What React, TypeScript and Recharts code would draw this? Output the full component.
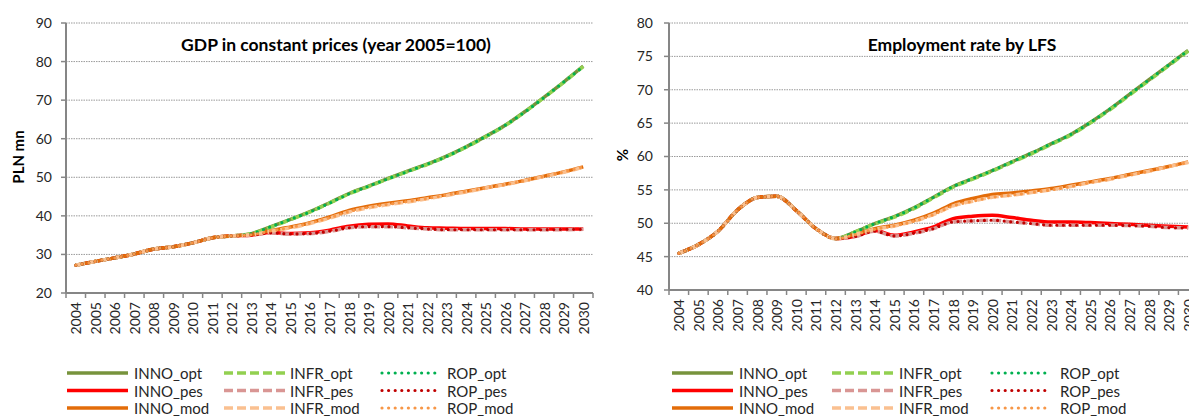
import React from 'react';
import { LineChart, Line, XAxis, YAxis, CartesianGrid } from 'recharts';

const YEARS = ['2004','2005','2006','2007','2008','2009','2010','2011','2012','2013','2014','2015','2016','2017','2018','2019','2020','2021','2022','2023','2024','2025','2026','2027','2028','2029','2030'];

// GDP in constant prices (year 2005=100), PLN mn
const gdpInnoOpt = [27.2,28.2,29.1,30.1,31.4,32.0,33.0,34.3,34.8,35.4,37.2,39.1,41.1,43.4,45.8,47.7,49.7,51.6,53.4,55.5,57.9,60.6,63.5,67.0,70.8,74.7,78.8];
const gdpInnoPes = [27.2,28.2,29.1,30.1,31.4,32.0,33.0,34.3,34.8,35.0,35.7,35.4,35.6,36.3,37.3,37.8,37.9,37.4,36.9,36.8,36.7,36.7,36.7,36.6,36.6,36.6,36.6];
const gdpInnoMod = [27.2,28.2,29.1,30.1,31.4,32.0,33.0,34.3,34.8,35.2,36.2,37.1,38.2,39.7,41.4,42.5,43.3,43.9,44.7,45.5,46.4,47.3,48.2,49.2,50.3,51.4,52.7];
const gdpInfrOpt = [27.2,28.2,29.1,30.1,31.4,32.0,33.0,34.3,34.8,35.4,37.1,39.0,41.0,43.3,45.7,47.6,49.6,51.5,53.3,55.4,57.8,60.5,63.4,66.9,70.7,74.6,78.7];
const gdpInfrPes = [27.2,28.2,29.1,30.1,31.4,32.0,33.0,34.3,34.8,35.0,35.6,35.3,35.4,36.0,36.9,37.2,37.2,36.9,36.6,36.4,36.4,36.4,36.4,36.4,36.4,36.4,36.5];
const gdpInfrMod = [27.2,28.2,29.1,30.1,31.4,32.0,33.0,34.3,34.8,35.1,36.0,36.9,38.0,39.4,41.0,42.1,42.9,43.6,44.4,45.3,46.2,47.2,48.1,49.1,50.2,51.3,52.6];
const gdpRopOpt = [27.2,28.2,29.1,30.1,31.4,32.0,33.0,34.3,34.8,35.4,37.2,39.1,41.0,43.3,45.7,47.7,49.6,51.5,53.4,55.4,57.9,60.6,63.5,66.9,70.7,74.7,78.7];
const gdpRopPes = [27.2,28.2,29.1,30.1,31.4,32.0,33.0,34.3,34.8,35.0,35.6,35.3,35.4,36.0,36.9,37.2,37.2,36.9,36.6,36.4,36.4,36.4,36.4,36.4,36.4,36.5,36.5];
const gdpRopMod = [27.2,28.2,29.1,30.1,31.4,32.0,33.0,34.3,34.8,35.1,36.1,37.0,38.1,39.5,41.1,42.2,43.0,43.7,44.5,45.4,46.3,47.2,48.1,49.1,50.2,51.4,52.7];

// Employment rate by LFS, %
const empInnoOpt = [45.5,46.8,48.8,52.0,53.85,54.05,51.9,49.2,47.7,48.7,49.95,51.0,52.3,53.9,55.5,56.7,57.9,59.2,60.5,61.9,63.3,65.1,67.1,69.3,71.5,73.7,75.9];
const empInnoPes = [45.5,46.8,48.8,52.0,53.85,54.05,51.9,49.2,47.7,48.05,48.9,48.2,48.7,49.45,50.7,51.05,51.2,50.85,50.45,50.2,50.2,50.1,49.95,49.85,49.7,49.55,49.45];
const empInnoMod = [45.5,46.8,48.8,52.0,53.85,54.05,51.9,49.2,47.7,48.35,49.2,49.7,50.45,51.5,52.9,53.7,54.3,54.55,54.85,55.2,55.7,56.2,56.7,57.3,57.9,58.5,59.2];
const empInfrOpt = [45.5,46.8,48.8,52.0,53.85,54.05,51.9,49.2,47.7,48.7,49.9,50.9,52.2,53.8,55.4,56.6,57.8,59.1,60.4,61.8,63.2,65.0,67.0,69.2,71.4,73.6,75.8];
const empInfrPes = [45.5,46.8,48.8,52.0,53.85,54.05,51.9,49.2,47.7,48.0,48.8,48.1,48.5,49.2,50.2,50.35,50.45,50.2,49.95,49.7,49.7,49.7,49.7,49.65,49.55,49.35,49.3];
const empInfrMod = [45.5,46.8,48.8,52.0,53.85,54.05,51.9,49.2,47.7,48.3,49.1,49.6,50.3,51.3,52.6,53.3,53.9,54.2,54.6,55.0,55.5,56.1,56.6,57.2,57.8,58.5,59.1];
const empRopOpt = [45.5,46.8,48.8,52.0,53.85,54.05,51.9,49.2,47.7,48.7,49.95,51.0,52.3,53.9,55.5,56.7,57.9,59.2,60.5,61.9,63.3,65.1,67.1,69.3,71.5,73.7,75.9];
const empRopPes = [45.5,46.8,48.8,52.0,53.85,54.05,51.9,49.2,47.7,48.0,48.8,48.1,48.5,49.2,50.2,50.35,50.45,50.2,49.95,49.7,49.7,49.7,49.7,49.65,49.55,49.35,49.3];
const empRopMod = [45.5,46.8,48.8,52.0,53.85,54.05,51.9,49.2,47.7,48.3,49.1,49.6,50.3,51.3,52.6,53.3,53.9,54.2,54.6,55.0,55.5,56.1,56.6,57.2,57.8,58.5,59.1];

const GDP_TICKS = [20,30,40,50,60,70,80,90];
const EMP_TICKS = [40,45,50,55,60,65,70,75,80];

const SERIES_KEYS = ['INNO_opt','INNO_pes','INNO_mod','INFR_opt','INFR_pes','INFR_mod','ROP_opt','ROP_pes','ROP_mod'];

type Kind = 'solid' | 'dash' | 'dot';
const STYLES: Record<string, { color: string; kind: Kind }> = {
  INNO_opt: { color: '#77933C', kind: 'solid' },
  INNO_pes: { color: '#FF0000', kind: 'solid' },
  INNO_mod: { color: '#E36C09', kind: 'solid' },
  INFR_opt: { color: '#92D050', kind: 'dash' },
  INFR_pes: { color: '#D99694', kind: 'dash' },
  INFR_mod: { color: '#FAC090', kind: 'dash' },
  ROP_opt: { color: '#00B050', kind: 'dot' },
  ROP_pes: { color: '#C00000', kind: 'dot' },
  ROP_mod: { color: '#F79646', kind: 'dot' },
};

const gdpData = YEARS.map((year, i) => ({
  year,
  INNO_opt: gdpInnoOpt[i], INNO_pes: gdpInnoPes[i], INNO_mod: gdpInnoMod[i],
  INFR_opt: gdpInfrOpt[i], INFR_pes: gdpInfrPes[i], INFR_mod: gdpInfrMod[i],
  ROP_opt: gdpRopOpt[i], ROP_pes: gdpRopPes[i], ROP_mod: gdpRopMod[i],
}));
const empData = YEARS.map((year, i) => ({
  year,
  INNO_opt: empInnoOpt[i], INNO_pes: empInnoPes[i], INNO_mod: empInnoMod[i],
  INFR_opt: empInfrOpt[i], INFR_pes: empInfrPes[i], INFR_mod: empInfrMod[i],
  ROP_opt: empRopOpt[i], ROP_pes: empRopPes[i], ROP_mod: empRopMod[i],
}));

const FONT = 'Lato, "Open Sans", sans-serif';
const AXIS = '#868686';
const TEXT = '#262626';

function strokeProps(kind: Kind) {
  if (kind === 'dash') return { strokeWidth: 3.5, strokeDasharray: '9 4' };
  if (kind === 'dot') return { strokeWidth: 3.2, strokeDasharray: '0 6.6', strokeLinecap: 'round' as const };
  return { strokeWidth: 3.5 };
}

const makeXTick = (band: number) => (props: any) => {
  const { x, y, payload } = props;
  const isLast = payload.value === YEARS[YEARS.length - 1];
  const ty = y + 9;
  return (
    <g>
      <line x1={x - band / 2} y1={y} x2={x - band / 2} y2={y + 5} stroke={AXIS} strokeWidth={1.5} />
      {isLast && <line x1={x + band / 2} y1={y} x2={x + band / 2} y2={y + 5} stroke={AXIS} strokeWidth={1.5} />}
      <text
        x={x}
        y={ty}
        transform={`rotate(-90 ${x} ${ty})`}
        textAnchor="end"
        dominantBaseline="central"
        fontSize={14}
        fontFamily={FONT}
        fill={TEXT}
      >
        {payload.value}
      </text>
    </g>
  );
};

type Col = { x1: number; x2: number; tx: number };
const GROUPS = [['INNO_opt','INNO_pes','INNO_mod'],['INFR_opt','INFR_pes','INFR_mod'],['ROP_opt','ROP_pes','ROP_mod']];
const ROWS_Y = [373, 390.5, 408];

function LegendBlock({ cols }: { cols: Col[] }) {
  return (
    <svg width={600} height={416} style={{ position: 'absolute', left: 0, top: 0, pointerEvents: 'none' }}>
      {GROUPS.map((g, gi) =>
        g.map((key, ri) => {
          const s = STYLES[key];
          const c = cols[gi];
          const y = ROWS_Y[ri];
          return (
            <g key={key}>
              <line x1={c.x1} y1={y} x2={c.x2} y2={y} stroke={s.color} {...strokeProps(s.kind)} />
              <text x={c.tx} y={y} dominantBaseline="central" fontSize={15} fontFamily={FONT} fill={TEXT}>{key}</text>
            </g>
          );
        })
      )}
    </svg>
  );
}

function Panel(props: {
  left: number; data: any[]; domain: [number, number]; ticks: number[];
  yWidth: number; marginRight: number; marginBottom: number; band: number; tickMargin: number;
  title: string; titleX: number; yLabel: string; yLabelX: number; yLabelY: number; cols: Col[];
}) {
  const p = props;
  return (
    <div style={{ position: 'absolute', left: p.left, top: 0, width: 600, height: 416 }}>
      <LineChart width={600} height={416} data={p.data} margin={{ top: 23, right: p.marginRight, left: 0, bottom: p.marginBottom }}>
        <CartesianGrid vertical={false} stroke="#9A9A9A" strokeDasharray="1.5 1" strokeWidth={1} />
        <XAxis
          dataKey="year"
          height={40}
          interval={0}
          padding={{ left: p.band / 2, right: p.band / 2 }}
          tickSize={0}
          tickMargin={0}
          tickLine={false}
          axisLine={{ stroke: AXIS, strokeWidth: 2 }}
          tick={makeXTick(p.band)}
        />
        <YAxis
          width={p.yWidth}
          domain={p.domain}
          ticks={p.ticks}
          interval={0}
          tickSize={5}
          tickMargin={p.tickMargin}
          axisLine={{ stroke: AXIS, strokeWidth: 2 }}
          tickLine={{ stroke: AXIS, strokeWidth: 1.5 }}
          tick={{ fontSize: 14, fontFamily: FONT, fill: TEXT }}
        />
        {SERIES_KEYS.map((k) => {
          const s = STYLES[k];
          return (
            <Line
              key={k}
              dataKey={k}
              type="monotone"
              stroke={s.color}
              {...strokeProps(s.kind)}
              dot={false}
              activeDot={false}
              isAnimationActive={false}
            />
          );
        })}
      </LineChart>
      <div style={{ position: 'absolute', left: p.titleX, top: 44, transform: 'translate(-50%,-50%)', whiteSpace: 'nowrap', fontFamily: FONT, fontWeight: 700, fontSize: 17.5, color: '#000' }}>
        {p.title}
      </div>
      <div style={{ position: 'absolute', left: p.yLabelX, top: p.yLabelY, transform: 'translate(-50%,-50%) rotate(-90deg)', whiteSpace: 'nowrap', fontFamily: FONT, fontWeight: 700, fontSize: 15, color: '#000' }}>
        {p.yLabel}
      </div>
      <LegendBlock cols={p.cols} />
    </div>
  );
}

export default function App() {
  return (
    <div style={{ position: 'fixed', left: 0, top: 0, width: 1189, height: 416, overflow: 'hidden', background: '#fff' }}>
      <Panel
        left={0} data={gdpData} domain={[20, 90]} ticks={GDP_TICKS}
        yWidth={66} marginRight={7} marginBottom={83} band={527.3 / 27} tickMargin={9}
        title="GDP in constant prices (year 2005=100)" titleX={336}
        yLabel="PLN mn" yLabelX={18} yLabelY={157}
        cols={[{ x1: 67, x2: 128, tx: 134 }, { x1: 224, x2: 285, tx: 290 }, { x1: 382, x2: 436, tx: 447 }]}
      />
      <Panel
        left={600} data={empData} domain={[40, 80]} ticks={EMP_TICKS}
        yWidth={69} marginRight={2} marginBottom={86} band={529 / 27} tickMargin={11}
        title="Employment rate by LFS" titleX={362}
        yLabel="%" yLabelX={22} yLabelY={155}
        cols={[{ x1: 72, x2: 133, tx: 139 }, { x1: 232, x2: 293, tx: 299 }, { x1: 392, x2: 451, tx: 460 }]}
      />
    </div>
  );
}
